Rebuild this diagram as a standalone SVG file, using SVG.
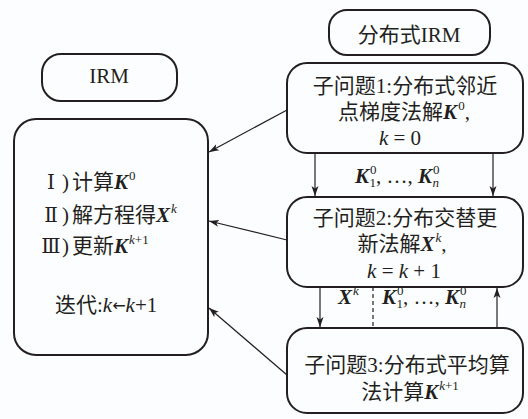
<svg xmlns="http://www.w3.org/2000/svg" width="528" height="419" viewBox="0 0 528 419">
<style>
.box{fill:none;stroke:#231f20;stroke-width:2}
.ln{fill:none;stroke:#231f20;stroke-width:1.2}
.dash{fill:none;stroke:#231f20;stroke-width:1.2;stroke-dasharray:4,3}
text{font-family:"Liberation Serif","Noto Sans CJK SC",serif;font-size:21px;fill:#231f20}
.cjk{font-family:"Noto Sans CJK SC","Liberation Serif",sans-serif}
.rn{font-family:"DejaVu Serif","Liberation Serif","Noto Sans CJK SC",serif;font-size:20px}
.arw{font-family:"DejaVu Sans","Liberation Serif",sans-serif;font-size:16px}
.bi{font-weight:bold;font-style:italic}
.i{font-style:italic}
.s{font-size:13px}
</style>
<defs>
<marker id="ah" markerWidth="11" markerHeight="8" refX="10" refY="4" orient="auto" markerUnits="userSpaceOnUse">
<path d="M0,0.5 L10,4 L0,7.5 L2.5,4 z" fill="#231f20"/>
</marker>
</defs>
<rect width="528" height="419" fill="#fcfdff"/>
<g id="irm-title">
<rect class="box" x="42" y="54" width="135" height="47" rx="19"/>
<text x="109" y="83" text-anchor="middle">IRM</text>
</g>
<g id="irm-steps">
<rect class="box" x="14" y="119" width="194" height="236" rx="22"/>
<text class="rn" x="51" y="189" text-anchor="middle">Ⅰ</text>
<text y="189"><tspan x="62">)</tspan><tspan x="72" class="cjk">计算</tspan><tspan class="bi">K</tspan><tspan class="s" dy="-9" dx="1">0</tspan></text>
<text class="rn" x="51" y="222" text-anchor="middle">Ⅱ</text>
<text y="222"><tspan x="62">)</tspan><tspan x="72" class="cjk">解方程得</tspan><tspan class="bi">X</tspan><tspan class="s i" dy="-9" dx="1">k</tspan></text>
<text class="rn" x="51" y="253" text-anchor="middle">Ⅲ</text>
<text y="253"><tspan x="62">)</tspan><tspan x="72" class="cjk">更新</tspan><tspan class="bi">K</tspan><tspan class="s" dy="-9" dx="1"><tspan class="i">k</tspan>+1</tspan></text>
<text y="312"><tspan x="55" class="cjk">迭代</tspan><tspan>:</tspan><tspan class="i">k</tspan><tspan class="arw" dy="-1">←</tspan><tspan class="i" dy="1">k</tspan><tspan>+1</tspan></text>
</g>
<g id="dist-title">
<rect class="box" x="329" y="10" width="161" height="45" rx="18"/>
<text x="409" y="42" text-anchor="middle"><tspan class="cjk">分布式</tspan>IRM</text>
</g>
<g id="sub1">
<rect class="box" x="287" y="63" width="236" height="90" rx="20"/>
<text x="405" y="93" text-anchor="middle"><tspan class="cjk">子问题</tspan>1:<tspan class="cjk">分布式邻近</tspan></text>
<text x="404" y="119" text-anchor="middle"><tspan class="cjk">点梯度法解</tspan><tspan class="bi">K</tspan><tspan class="s" dy="-9" dx="1">0</tspan><tspan dy="9">,</tspan></text>
<text x="400" y="145" text-anchor="middle"><tspan class="i">k</tspan> = 0</text>
</g>
<g id="sub2">
<rect class="box" x="287" y="197" width="236" height="90" rx="20"/>
<text x="405" y="225" text-anchor="middle"><tspan class="cjk">子问题</tspan>2:<tspan class="cjk">分布交替更</tspan></text>
<text x="402" y="251" text-anchor="middle"><tspan class="cjk">新法解</tspan><tspan class="bi">X</tspan><tspan class="s i" dy="-9" dx="1">k</tspan><tspan dy="9">,</tspan></text>
<text x="404" y="278" text-anchor="middle"><tspan class="i">k</tspan> = <tspan class="i">k</tspan> + 1</text>
</g>
<g id="sub3">
<rect class="box" x="287" y="328" width="236" height="85" rx="20"/>
<text x="407" y="372" text-anchor="middle"><tspan class="cjk">子问题</tspan>3:<tspan class="cjk">分布式平均算</tspan></text>
<text x="410" y="399" text-anchor="middle"><tspan class="cjk">法计算</tspan><tspan class="bi">K</tspan><tspan class="s" dy="-9" dx="1"><tspan class="i">k</tspan>+1</tspan></text>
</g>
<g id="connectors">
<line class="ln" x1="287" y1="110" x2="209" y2="152" marker-end="url(#ah)"/>
<line class="ln" x1="287" y1="240" x2="209" y2="221" marker-end="url(#ah)"/>
<line class="ln" x1="287" y1="375" x2="209" y2="308" marker-end="url(#ah)"/>
<line class="ln" x1="315" y1="153" x2="315" y2="196" marker-end="url(#ah)"/>
<line class="ln" x1="493" y1="153" x2="493" y2="196" marker-end="url(#ah)"/>
<line class="ln" x1="320" y1="287" x2="320" y2="327" marker-end="url(#ah)"/>
<line class="ln" x1="497" y1="328" x2="497" y2="288" marker-end="url(#ah)"/>
<line class="dash" x1="373" y1="287" x2="373" y2="328"/>
</g>
<g id="labels">
<text x="355" y="183"><tspan class="bi">K</tspan><tspan class="s" dy="-9" dx="1">0</tspan><tspan class="s" dx="-7" dy="13">1</tspan><tspan dy="-4">, …, </tspan><tspan class="bi">K</tspan><tspan class="s" dy="-9" dx="1">0</tspan><tspan class="s i" dx="-7" dy="13">n</tspan></text>
<text x="338" y="304"><tspan class="bi">X</tspan><tspan class="s i" dy="-9" dx="1">k</tspan></text>
<text x="382" y="304"><tspan class="bi">K</tspan><tspan class="s" dy="-9" dx="1">0</tspan><tspan class="s" dx="-7" dy="13">1</tspan><tspan dy="-4">, …, </tspan><tspan class="bi">K</tspan><tspan class="s" dy="-9" dx="1">0</tspan><tspan class="s i" dx="-7" dy="13">n</tspan></text>
</g>
</svg>
